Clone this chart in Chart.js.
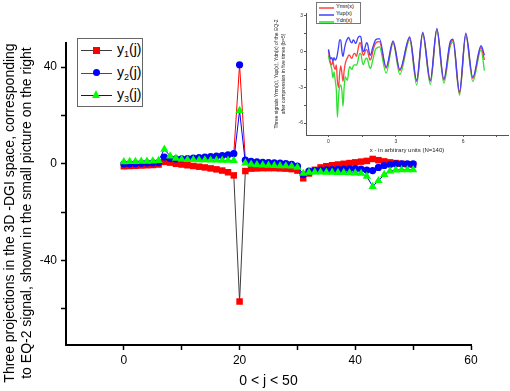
<!DOCTYPE html>
<html>
<head>
<meta charset="utf-8">
<script src="https://cdn.jsdelivr.net/npm/chart.js@4.4.1/dist/chart.umd.min.js"></script>
<style>
  html, body { margin: 0; padding: 0; background: #fff; }
  #wrap { position: relative; width: 510px; height: 391px; overflow: hidden;
          font-family: "Liberation Sans", Arial, sans-serif; color: #000; }
  #main { position: absolute; left: 0; top: 0; }
  #inset { position: absolute; left: 266px; top: 0; }
  .ytitle { position: absolute; width: 380px; height: 34px; left: -172.5px; top: 195.5px;
            transform: rotate(-90deg); text-align: center; font-size: 14px; line-height: 17px;
            white-space: nowrap; }
  .legend { position: absolute; border: 1px solid #666; background: #fff; box-sizing: border-box; }
  .row { position: absolute; left: 0; height: 0; }
  .ln { position: absolute; height: 0; border-top: 1px solid; }
  .mk { position: absolute; }
  .txt { position: absolute; white-space: nowrap; }
  .txt sub { font-size: 9px; vertical-align: -3px; line-height: 0; }
</style>
</head>
<body>
<div id="wrap">
  <canvas id="main" width="510" height="391"></canvas>
  <canvas id="inset" width="244" height="160"></canvas>

  <div class="ytitle">Three projections in the 3D -DGI space, corresponding<br>to EQ-2 signal, shown in the small picture on the right</div>

  <div class="legend" style="left:77px; top:38px; width:66px; height:69px;">
    <div class="row" style="top:11px;">
      <div class="ln" style="left:3px; width:31px; border-color:#3c3c3c;"></div>
      <div class="mk" style="left:15px; top:-3.5px; width:7px; height:7px; background:#ff0000;"></div>
      <div class="txt" style="left:39px; top:-9px; font-size:14px;">y<sub>1</sub>(j)</div>
    </div>
    <div class="row" style="top:33.5px;">
      <div class="ln" style="left:3px; width:31px; border-color:#ff0000;"></div>
      <div class="mk" style="left:15px; top:-3.5px; width:7px; height:7px; border-radius:50%; background:#0000ff;"></div>
      <div class="txt" style="left:39px; top:-9px; font-size:14px;">y<sub>2</sub>(j)</div>
    </div>
    <div class="row" style="top:56px;">
      <div class="ln" style="left:3px; width:31px; border-color:#0000ff;"></div>
      <div class="mk" style="left:14px; top:-5px; width:0; height:0; border-left:4.5px solid transparent; border-right:4.5px solid transparent; border-bottom:8px solid #00ff00;"></div>
      <div class="txt" style="left:39px; top:-9px; font-size:14px;">y<sub>3</sub>(j)</div>
    </div>
  </div>

  <div class="legend" style="left:316px; top:2px; width:45px; height:22px; border-color:#777;">
    <div class="row" style="top:3.5px;">
      <div class="ln" style="left:2px; width:15px; border-top:2px solid #ff7070;"></div>
      <div class="txt" style="left:19px; top:-3.5px; font-size:5.5px; line-height:6px;">Ymn(x)</div>
    </div>
    <div class="row" style="top:10.5px;">
      <div class="ln" style="left:2px; width:15px; border-top:2px solid #7070ff;"></div>
      <div class="txt" style="left:19px; top:-3.5px; font-size:5.5px; line-height:6px;">Yup(x)</div>
    </div>
    <div class="row" style="top:17.5px;">
      <div class="ln" style="left:2px; width:15px; border-top:2px solid #50ee50;"></div>
      <div class="txt" style="left:19px; top:-3.5px; font-size:5.5px; line-height:6px;">Ydn(x)</div>
    </div>
  </div>
</div>

<script>
// main chart: three projections, j = 0..50
const J_VALUES = [0,1,2,3,4,5,6,7,8,9,10,11,12,13,14,15,16,17,18,19,20,21,22,23,24,25,
                  26,27,28,29,30,31,32,33,34,35,36,37,38,39,40,41,42,43,44,45,46,47,48,49,50];

const Y1 = [-1,-0.9,-0.8,-0.7,-0.6,-0.5,-0.3,
            0.8,0.5,0,-0.3,-0.6,-0.9,-1.2,-1.5,-1.9,-2.3,-2.8,-3.5,-4.8,
            -57,
            -3,-2,-1.9,-1.8,-1.8,-1.8,-1.9,-2,-2.2,-2.8,
            -6,-4,-2.5,-1.5,-1,-0.6,-0.3,0,0.3,0.6,0.9,1.2,
            2,1.5,1,0.6,0.3,0,-0.2,-0.4];

const Y2 = [0,0,0.1,0.2,0.3,0.4,0.5,
            2.8,2.2,2.0,2.1,2.2,2.4,2.6,2.8,3.0,3.2,3.4,3.7,4.2,
            41,
            1.5,1,0.8,0.6,0.5,0.4,0.3,0.1,-0.2,-1,
            -4.5,-3,-2.8,-2.6,-2.5,-2.4,-2.3,-2.2,-2.1,-2,-2.2,-2.6,
            -2.8,-1.5,-0.7,-0.3,0,0,0,0];

const Y3 = [0.8,0.9,0.9,1,1,1.1,1.3,
            6,3.2,2.3,1.8,1.7,1.7,1.6,1.6,1.5,1.5,1.4,1.4,1.3,
            22,
            0.3,-0.2,-0.4,-0.5,-0.6,-0.7,-0.8,-0.9,-1,-1.5,
            -4,-3.5,-3.4,-3.4,-3.5,-3.5,-3.6,-3.6,-3.7,-3.8,-4,-5.2,
            -9.4,-7,-4.5,-3,-2.6,-2.5,-2.5,-2.5];

const X_TICKS = [0,10,20,30,40,50,60];
const Y_TICKS = [-60,-40,-20,0,20,40];

// inset: three signals after compression
const INSET_X = [0,0.05,0.1,0.15,0.2,0.25,0.3,0.35,0.4,0.45,
                 0.5,0.55,0.6,0.65,0.7,0.75,0.8,0.85,0.9,0.95,
                 1.0,1.05,1.1,1.15,1.2,1.25,1.3,1.35,1.4,1.45,
                 1.5,1.55,1.6,1.65,1.7,1.75,1.8,1.85,1.9,1.95,
                 2.0,2.05,2.1,2.15,
                 2.27,2.57,2.88,3.18,3.62,3.93,4.2,4.54,4.83,5.14,5.42,5.55,5.84,6.12,6.43,6.8,6.95];

const YMN = [0.15,-0.5,-1.0,-1.1,-0.8,-1.3,-1.5,-1.1,-2.5,-3.0,
             -1.8,-1.2,-1.8,-2.5,-1.6,-1.0,-0.7,-0.5,-0.3,-0.3,
             -0.5,-0.55,-0.3,-0.15,-0.2,-0.4,0.0,0.5,0.75,0.6,
             0.0,-0.3,-0.2,0.1,0.2,0.0,-0.4,-0.7,-0.6,-0.2,
             0.2,0.5,0.7,0.8,
             0.85,-1.4,0.8,-1.6,1.15,-2.5,1.55,-2.5,1.85,-2.4,0.6,0.95,-3.5,1.45,-2.25,0.35,-0.7];

const YUP = [0.2,-0.3,-0.6,-0.5,-0.8,-0.5,-0.7,-0.6,-0.2,0.4,
             1.0,1.0,0.0,-0.4,0.1,0.6,0.9,1.1,1.2,1.0,
             0.8,0.75,1.0,0.9,0.7,0.8,1.1,1.25,1.3,1.2,
             0.5,0.0,0.1,0.5,0.75,0.6,0.1,-0.3,-0.2,0.2,
             0.5,0.8,1.0,1.05,
             1.1,-1.3,0.9,-1.5,1.25,-2.4,1.65,-2.4,1.95,-2.3,0.8,1.05,-3.35,1.55,-2.15,0.5,-0.3];

const YDN = [-0.3,-0.8,-1.1,-1.5,-2.2,-1.7,-2.4,-3.2,-5.5,-3.8,
             -2.9,-2.8,-3.3,-4.6,-3.0,-2.1,-2.3,-2.4,-1.6,-1.25,
             -1.4,-1.5,-1.2,-1.1,-1.1,-1.15,-0.9,-0.4,-0.15,-0.2,
             -0.8,-1.1,-0.9,-0.6,-0.55,-0.7,-1.1,-1.4,-1.3,-0.9,
             -0.5,-0.1,0.2,0.3,
             0.4,-1.8,0.7,-1.9,1.0,-2.8,1.45,-2.75,1.75,-2.65,0.4,0.8,-3.65,1.3,-2.5,0.15,-1.6];

const INSET_X_TICKS = [0,1.5,3,4.5,6,7.5];
const INSET_Y_TICKS = [-6,-4.5,-3,-1.5,0,1.5,3];


Chart.defaults.font.family = '"Liberation Sans", Arial, sans-serif';
Chart.defaults.color = '#000';

function pairUp(xs, ys) {
  return ys.map((y, i) => ({ x: xs[i], y: y }));
}

function fixedTicks(values) {
  return scale => { scale.ticks = values.map(v => ({ value: v })); };
}

new Chart(document.getElementById('main'), {
  type: 'line',
  data: {
    datasets: [
      {
        label: 'y1(j)',
        data: pairUp(J_VALUES, Y1),
        borderColor: '#3c3c3c',
        borderWidth: 1,
        pointStyle: 'rect',
        pointRadius: 4.6,
        pointBackgroundColor: '#ff0000',
        pointBorderWidth: 0,
        order: 3
      },
      {
        label: 'y2(j)',
        data: pairUp(J_VALUES, Y2),
        borderColor: '#ff0000',
        borderWidth: 1,
        pointStyle: 'circle',
        pointRadius: 3.6,
        pointBackgroundColor: '#0000ff',
        pointBorderWidth: 0,
        order: 2
      },
      {
        label: 'y3(j)',
        data: pairUp(J_VALUES, Y3),
        borderColor: '#0000ff',
        borderWidth: 1,
        pointStyle: 'triangle',
        pointRadius: 4.8,
        pointBackgroundColor: '#00ff00',
        pointBorderWidth: 0,
        order: 1
      }
    ]
  },
  options: {
    responsive: false,
    animation: false,
    layout: { padding: { top: 43, right: 39, left: 0, bottom: 0 } },
    plugins: { legend: { display: false }, tooltip: { enabled: false } },
    scales: {
      x: {
        type: 'linear',
        min: -10,
        max: 60,
        afterBuildTicks: fixedTicks(X_TICKS),
        afterFit: s => { s.height = 46; },
        ticks: {
          font: { size: 12 },
          padding: 3,
          maxRotation: 0,
          callback: v => (v % 20 === 0 ? String(v) : '')
        },
        grid: { drawOnChartArea: false, drawTicks: true, tickLength: 5, tickColor: '#000', tickWidth: 1.5 },
        border: { display: true, color: '#000', width: 2 },
        title: { display: true, text: '0 < j < 50', font: { size: 14 }, padding: { top: 0, bottom: 1 } }
      },
      y: {
        type: 'linear',
        min: -75,
        max: 50,
        afterBuildTicks: fixedTicks(Y_TICKS),
        afterFit: s => { s.width = 66; },
        ticks: {
          font: { size: 12 },
          padding: 4,
          callback: v => (v % 40 === 0 ? String(v) : '')
        },
        grid: { drawOnChartArea: false, drawTicks: true, tickLength: 5, tickColor: '#000', tickWidth: 1.5 },
        border: { display: true, color: '#000', width: 2 }
      }
    }
  }
});

new Chart(document.getElementById('inset'), {
  type: 'line',
  data: {
    datasets: [
      { label: 'Ydn(x)', data: pairUp(INSET_X, YDN), borderColor: '#30e030', borderWidth: 1.3,
        pointRadius: 0, cubicInterpolationMode: 'monotone', order: 3 },
      { label: 'Ymn(x)', data: pairUp(INSET_X, YMN), borderColor: '#ff4040', borderWidth: 1.3,
        pointRadius: 0, cubicInterpolationMode: 'monotone', order: 2 },
      { label: 'Yup(x)', data: pairUp(INSET_X, YUP), borderColor: '#4040ff', borderWidth: 1.3,
        pointRadius: 0, cubicInterpolationMode: 'monotone', order: 1 }
    ]
  },
  options: {
    responsive: false,
    animation: false,
    layout: { padding: { top: 13, right: 2, left: 0, bottom: 0 } },
    plugins: { legend: { display: false }, tooltip: { enabled: false } },
    scales: {
      x: {
        type: 'linear',
        min: -1,
        max: 8,
        afterBuildTicks: fixedTicks(INSET_X_TICKS),
        afterFit: s => { s.height = 25; },
        ticks: {
          font: { size: 5 },
          color: '#333',
          padding: 2,
          maxRotation: 0,
          callback: v => (v % 3 === 0 ? String(v) : '')
        },
        grid: { drawOnChartArea: false, drawTicks: true, tickLength: 2, tickColor: '#555', tickWidth: 1 },
        border: { display: true, color: '#555', width: 1 },
        title: { display: true, text: 'x - in arbitrary units (N=140)', font: { size: 6 }, color: '#222',
                 padding: { top: 0, bottom: 6 } }
      },
      y: {
        type: 'linear',
        min: -7,
        max: 3.25,
        afterBuildTicks: fixedTicks(INSET_Y_TICKS),
        afterFit: s => { s.width = 40; },
        ticks: {
          font: { size: 5 },
          color: '#333',
          padding: 1,
          callback: v => (v % 3 === 0 ? String(v) : '')
        },
        grid: { drawOnChartArea: false, drawTicks: true, tickLength: 2, tickColor: '#555', tickWidth: 1 },
        border: { display: true, color: '#555', width: 1 },
        title: {
          display: true,
          text: ['Three signals Ymn(x), Yup(x), Ydn(x) of the EQ-2', 'after compression in five times (b=5)'],
          font: { size: 5, lineHeight: 1.4 },
          color: '#222',
          padding: { top: 7.5, bottom: 0 }
        }
      }
    }
  }
});
</script>
</body>
</html>
